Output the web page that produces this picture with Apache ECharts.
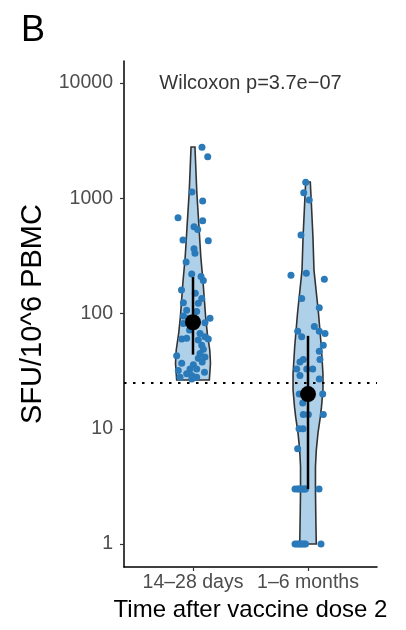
<!DOCTYPE html>
<html>
<head>
<meta charset="utf-8">
<script src="https://cdn.jsdelivr.net/npm/echarts@6/dist/echarts.min.js"></script>
<style>html,body{margin:0;padding:0;background:#fff;}#c{width:406px;height:630px;}</style>
</head>
<body>
<div id="c"></div>
<script>
const categories = ['14–28 days', '1–6 months'];
const yTickValues = [1, 10, 100, 1000, 10000];
const yTickLabels = ['1', '10', '100', '1000', '10000'];
const panelLabel = 'B';
const xTitle = 'Time after vaccine dose 2';
const yTitle = 'SFU/10^6 PBMC';
const pLabel = 'Wilcoxon p=3.7e−07';
const thresholdValue = 25;

const group1Values = [2767, 2295, 1133, 946, 678, 639, 566, 537, 434, 428, 365, 333, 280,
  220, 209, 193, 160, 150, 135, 123, 124, 107, 104, 95, 91, 91, 83, 82, 72, 67, 61, 60, 59, 63, 60,
  53, 49, 43, 45, 41, 42, 38, 37, 36, 33, 33, 32, 31, 30, 29, 28, 28, 27];
const group1Jitter = [0.078, 0.128, -0.009, 0.084, -0.130, 0.084, 0.009, 0.041, -0.087, 0.133, 0.009, 0.017, -0.06,
  -0.011, 0.070, 0.090, -0.10, 0.02, 0.076, 0.046, -0.084, -0.055, 0.032, -0.084, -0.041, 0.148, 0.104, -0.084, -0.03, 0.061, -0.055, -0.098, 0.046, 0.104, 0.133,
  0.076, 0.090, -0.142, 0.061, 0.046, 0.104, 0.08, -0.098, 0.003, -0.026, 0.032, -0.128, 0.10, -0.055, -0.011, -0.113, 0.032, -0.011];

const group2Values = [1375, 1117, 966, 480, 215, 223, 198, 135, 112, 77, 70, 70, 67, 63, 53, 47, 40, 40, 38,
  33, 33, 33, 29, 27, 20, 20, 16.7, 13.3, 13.3, 13.3, 10, 10, 6.7,
  3, 3, 3, 3, 3, 3, 3, 3, 1, 1, 1, 1, 1, 1, 1, 1];
const group2Jitter = [-0.020, -0.037, 0.011, -0.061, -0.148, -0.015, 0.142, -0.055, 0.098, 0.055, -0.090, 0.098, 0.148, -0.055, 0.133, 0.098, 0.104, -0.041, -0.070,
  -0.098, -0.011, 0.041, -0.070, 0.098, -0.076, 0.128, -0.046, -0.041, 0.003, 0.133, -0.078, -0.043, -0.090,
  -0.113, -0.090, -0.078, -0.060, -0.043, -0.030, -0.022, 0.096, -0.113, -0.095, -0.078, -0.065, -0.052, -0.035, -0.022, 0.113];

const medians = [84, 20];
const lowers = [44, 3];
const uppers = [207, 64];

const violin1Levels = [26.5, 37, 48, 68, 93, 131, 184, 309, 563, 1133, 2786];
const violin1HalfWidth = [0.142, 0.152, 0.146, 0.124, 0.110, 0.099, 0.088, 0.068, 0.052, 0.033, 0.017];
const violin2Levels = [1, 1.7, 2.9, 4.7, 6.5, 9.2, 12.6, 15.4, 21.7, 30, 51, 101, 238, 461, 910, 1384];
const violin2HalfWidth = [0.072, 0.068, 0.065, 0.065, 0.072, 0.087, 0.107, 0.117, 0.130, 0.130, 0.116, 0.091, 0.052, 0.043, 0.029, 0.020];

const FONT = 'Liberation Sans, Arial, Helvetica, sans-serif';
const lg = Math.log10;
const violins = [[violin1Levels, violin1HalfWidth], [violin2Levels, violin2HalfWidth]];

const pts = [];
group1Values.forEach((v, i) => pts.push([1 + group1Jitter[i], lg(v)]));
group2Values.forEach((v, i) => pts.push([2 + group2Jitter[i], lg(v)]));

const chart = echarts.init(document.getElementById('c'), null, {renderer: 'canvas'});
chart.setOption({
  animation: false,
  backgroundColor: '#ffffff',
  grid: {left: 124, right: 29, top: 61, bottom: 63, containLabel: false},
  graphic: [{type: 'text', left: 21, top: 13, style: {text: panelLabel, font: '36px ' + FONT, fill: '#000'}}],
  xAxis: {
    type: 'value', min: 0.4, max: 2.6,
    axisLine: {show: true, onZero: false, lineStyle: {color: '#000', width: 1.5}},
    axisTick: {show: true, customValues: [1, 2], length: 4, lineStyle: {color: '#333', width: 1.2}},
    axisLabel: {customValues: [1, 2], formatter: v => categories[Math.round(v) - 1], fontSize: 19.5, fontFamily: FONT, color: '#4d4d4d', margin: 6},
    splitLine: {show: false},
    name: xTitle, nameLocation: 'middle', nameGap: 29,
    nameTextStyle: {fontSize: 24, fontFamily: FONT, color: '#000'}
  },
  yAxis: {
    type: 'value', min: lg(0.632), max: lg(15520),
    axisLine: {show: true, onZero: false, lineStyle: {color: '#000', width: 1.5}},
    axisTick: {show: true, customValues: yTickValues.map(lg), length: 4, lineStyle: {color: '#333', width: 1.2}},
    axisLabel: {customValues: yTickValues.map(lg), formatter: v => yTickLabels[yTickValues.findIndex(t => Math.abs(lg(t) - v) < 1e-6)], fontSize: 19.5, fontFamily: FONT, color: '#4d4d4d', margin: 11},
    splitLine: {show: false},
    name: yTitle, nameLocation: 'middle', nameGap: 71, nameRotate: 90,
    nameTextStyle: {fontSize: 29, fontFamily: FONT, color: '#000'}
  },
  series: [
    {
      type: 'custom', name: 'violin',
      data: [[1, 0], [2, 0]],
      encode: {x: 0, y: 1},
      renderItem: function (params, api) {
        const c = api.value(0);
        const [lv, hw] = violins[c - 1];
        const right = lv.map((v, k) => api.coord([c + hw[k], lg(v)]));
        const left = lv.map((v, k) => api.coord([c - hw[k], lg(v)])).reverse();
        return {type: 'polygon', shape: {points: right.concat(left)},
          style: {fill: 'rgba(160,200,228,0.85)', stroke: '#333', lineWidth: 1.6}};
      },
      markLine: {
        silent: true, symbol: 'none', label: {show: false},
        lineStyle: {color: '#000', width: 2, type: [2.5, 6.5]},
        data: [{yAxis: lg(thresholdValue)}]
      },
      z: 1
    },
    {
      type: 'scatter', name: 'points', data: pts, symbolSize: 7,
      itemStyle: {color: '#2a79b9', opacity: 1}, z: 2
    },
    {
      type: 'custom', name: 'summary',
      data: medians.map((m, i) => [i + 1, lg(m), lg(lowers[i]), lg(uppers[i])]),
      encode: {x: 0, y: 1},
      renderItem: function (params, api) {
        const c = api.value(0);
        const pm = api.coord([c, api.value(1)]);
        const pl = api.coord([c, api.value(2)]);
        const pu = api.coord([c, api.value(3)]);
        return {type: 'group', children: [
          {type: 'line', shape: {x1: pl[0], y1: pl[1], x2: pu[0], y2: pu[1]}, style: {stroke: '#000', lineWidth: 2.5}},
          {type: 'circle', shape: {cx: pm[0], cy: pm[1], r: 8}, style: {fill: '#000'}}
        ]};
      },
      z: 3
    },
    {
      type: 'scatter', name: 'annotation', data: [[1.5, lg(10000)]], symbolSize: 0,
      label: {show: true, position: 'inside', formatter: pLabel, fontSize: 20, fontFamily: FONT, color: '#000'},
      z: 4
    }
  ]
});
</script>
</body>
</html>
